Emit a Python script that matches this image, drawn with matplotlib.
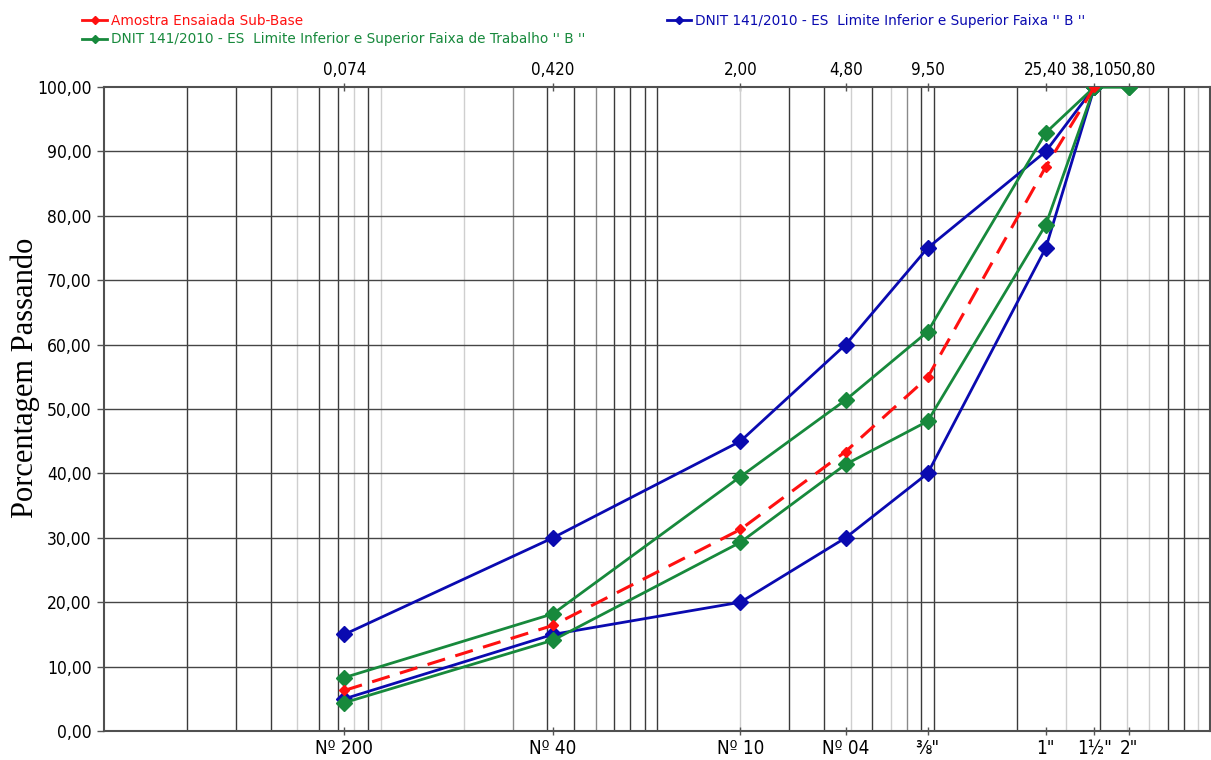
import matplotlib
matplotlib.use("Agg")
import matplotlib.pyplot as plt
from matplotlib.lines import Line2D
from matplotlib.ticker import FixedLocator, NullLocator
from matplotlib.transforms import ScaledTranslation
import matplotlib.font_manager as fm

# ---------------- data ----------------
sieve_mm = [0.074, 0.420, 2.00, 4.80, 9.50, 25.40, 38.10, 50.80]
top_labels = ["0,074", "0,420", "2,00", "4,80", "9,50", "25,40", "38,10", "50,80"]
bottom_labels = ["Nº 200", "Nº 40", "Nº 10", "Nº 04", "⅜\"", "1\"", "1½\"", "2\""]

amostra = [6.3, 16.4, 31.3, 43.4, 54.9, 87.6, 100.0]
faixa_b_sup = [15.0, 30.0, 45.0, 60.0, 75.0, 90.0, 100.0]
faixa_b_inf = [5.0, 15.0, 20.0, 30.0, 40.0, 75.0, 100.0]
trabalho_sup = [8.3, 18.2, 39.5, 51.4, 62.0, 92.9, 100.0, 100.0]
trabalho_inf = [4.4, 14.1, 29.3, 41.4, 48.1, 78.6, 100.0, 100.0]

y_ticks = [0, 10, 20, 30, 40, 50, 60, 70, 80, 90, 100]

lbl_amostra = "Amostra Ensaiada Sub-Base"
lbl_faixa = "DNIT 141/2010 - ES  Limite Inferior e Superior Faixa '' B ''"
lbl_trab = "DNIT 141/2010 - ES  Limite Inferior e Superior Faixa de Trabalho '' B ''"

# ---------------- style ----------------
RED = "#ff1010"
BLUE = "#0a0ab0"
GREEN = "#17893c"

cond = [f for f in fm.fontManager.ttflist
        if f.name == "DejaVu Sans" and str(f.stretch) in ("condensed", "semi-condensed")]
if cond:
    tick_font = dict(fontfamily=["DejaVu Sans"], fontstretch="condensed")
    ts = 1.0
else:
    tick_font = dict(fontfamily=["Liberation Sans", "DejaVu Sans"])
    ts = 0.9

fig = plt.figure(figsize=(12.11, 7.60), dpi=100)
ax = fig.add_axes([104 / 1211, 1 - 731 / 760, 1 - 104 / 1211 - 0.0005, (731 - 87) / 760])

ax.set_xscale("log")
ax.set_xlim(0.01, 100)
ax.set_ylim(0, 100)

# vertical grid (log minor lines) with the varying shades of the original
dark, mid, light = "#3a3a3a", "#8a8a8a", "#cfcfcf"
shade = {}
for dec in [0.01, 0.1, 1, 10]:
    for m in range(1, 10):
        v = round(m * dec, 6)
        if v <= 0.01:
            continue
        shade[v] = dark
for v in [0.3, 0.6, 8]:
    shade[v] = mid
for v in [0.05, 0.08, 0.1, 0.2, 2, 5, 7, 30, 50, 60, 90]:
    shade[v] = light
for v, c in shade.items():
    ax.axvline(v, color=c, lw=1.0, zorder=1)
for v in y_ticks[1:-1]:
    ax.axhline(v, color="#454545", lw=1.0, zorder=1)

# series
ax.plot(sieve_mm[:7], faixa_b_sup, color=BLUE, lw=2, marker="D", ms=8, zorder=3)
ax.plot(sieve_mm[:7], faixa_b_inf, color=BLUE, lw=2, marker="D", ms=8, zorder=3)
ax.plot(sieve_mm, trabalho_sup, color=GREEN, lw=2, marker="D", ms=8, zorder=4)
ax.plot(sieve_mm, trabalho_inf, color=GREEN, lw=2, marker="D", ms=8, zorder=4)
ax.plot(sieve_mm[:7], amostra, color=RED, lw=2.2, ls=(0, (6, 3.5)), marker="D",
        ms=5, zorder=5)

# y axis
ax.yaxis.set_major_locator(FixedLocator(y_ticks))
ax.set_yticklabels([f"{v:.2f}".replace(".", ",") for v in y_ticks],
                   fontsize=12.5 * ts, **tick_font)
ax.tick_params(axis="y", direction="out", length=5, width=1, color="#555555", pad=4)

# bottom x axis
ax.xaxis.set_major_locator(FixedLocator(sieve_mm))
ax.xaxis.set_minor_locator(NullLocator())
ax.set_xticklabels(bottom_labels, fontsize=13.5 * ts, **tick_font)
ax.tick_params(axis="x", direction="inout", length=6, width=1, color="#555555", pad=3)

# top x axis
sec = ax.secondary_xaxis("top")
sec.xaxis.set_major_locator(FixedLocator(sieve_mm))
sec.xaxis.set_minor_locator(NullLocator())
sec.set_xticklabels(top_labels, fontsize=12.2 * ts, **tick_font)
sec.tick_params(axis="x", direction="inout", length=6, width=1, color="#555555", pad=3)
for s in sec.spines.values():
    s.set_visible(False)
# nudge the two crowded labels apart as in the original
lbls = sec.get_xticklabels()
lbls[-2].set_transform(lbls[-2].get_transform() + ScaledTranslation(-2 / 100, 0, fig.dpi_scale_trans))
lbls[-1].set_transform(lbls[-1].get_transform() + ScaledTranslation(6 / 100, 0, fig.dpi_scale_trans))

for s in ax.spines.values():
    s.set_color("#505050")
    s.set_linewidth(1.5)

fig.text(25 / 1211, 1 - 378 / 760, "Porcentagem Passando", rotation=90,
         ha="center", va="center", fontsize=22,
         fontfamily=["Liberation Serif", "DejaVu Serif"])

# legend
h_red = Line2D([], [], color=RED, lw=2, marker="D", ms=4)
h_green = Line2D([], [], color=GREEN, lw=2, marker="D", ms=4)
h_blue = Line2D([], [], color=BLUE, lw=2, marker="D", ms=4)
leg = fig.legend([h_red, h_green, h_blue], [lbl_amostra, lbl_trab, lbl_faixa],
                 loc="upper left", bbox_to_anchor=(70 / 1211, 1 - 2 / 760),
                 ncol=2, frameon=False, fontsize=9.8, handlelength=1.8,
                 handletextpad=0.3, columnspacing=6.0, labelspacing=0.3)
for t, c in zip(leg.get_texts(), [RED, GREEN, BLUE]):
    t.set_color(c)

fig.savefig("out.png", dpi=100)
